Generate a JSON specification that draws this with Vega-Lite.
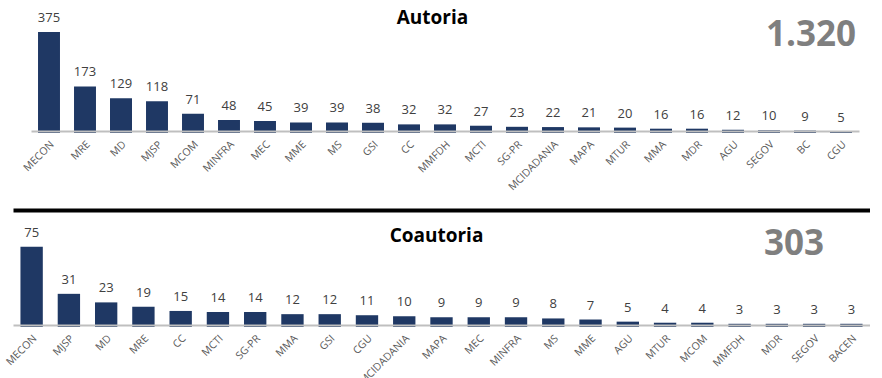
{
  "$schema": "https://vega.github.io/schema/vega-lite/v6.json",
  "padding": {"top": 8, "left": 0, "right": 0, "bottom": 0},
  "background": "white",
  "config": {
    "view": {"stroke": null},
    "font": "Open Sans"
  },
  "datasets": {
    "orgaos": [
      {"painel": "Autoria", "orgao": "MECON", "valor": 375},
      {"painel": "Autoria", "orgao": "MRE", "valor": 173},
      {"painel": "Autoria", "orgao": "MD", "valor": 129},
      {"painel": "Autoria", "orgao": "MJSP", "valor": 118},
      {"painel": "Autoria", "orgao": "MCOM", "valor": 71},
      {"painel": "Autoria", "orgao": "MINFRA", "valor": 48},
      {"painel": "Autoria", "orgao": "MEC", "valor": 45},
      {"painel": "Autoria", "orgao": "MME", "valor": 39},
      {"painel": "Autoria", "orgao": "MS", "valor": 39},
      {"painel": "Autoria", "orgao": "GSI", "valor": 38},
      {"painel": "Autoria", "orgao": "CC", "valor": 32},
      {"painel": "Autoria", "orgao": "MMFDH", "valor": 32},
      {"painel": "Autoria", "orgao": "MCTI", "valor": 27},
      {"painel": "Autoria", "orgao": "SG-PR", "valor": 23},
      {"painel": "Autoria", "orgao": "MCIDADANIA", "valor": 22},
      {"painel": "Autoria", "orgao": "MAPA", "valor": 21},
      {"painel": "Autoria", "orgao": "MTUR", "valor": 20},
      {"painel": "Autoria", "orgao": "MMA", "valor": 16},
      {"painel": "Autoria", "orgao": "MDR", "valor": 16},
      {"painel": "Autoria", "orgao": "AGU", "valor": 12},
      {"painel": "Autoria", "orgao": "SEGOV", "valor": 10},
      {"painel": "Autoria", "orgao": "BC", "valor": 9},
      {"painel": "Autoria", "orgao": "CGU", "valor": 5},
      {"painel": "Coautoria", "orgao": "MECON", "valor": 75},
      {"painel": "Coautoria", "orgao": "MJSP", "valor": 31},
      {"painel": "Coautoria", "orgao": "MD", "valor": 23},
      {"painel": "Coautoria", "orgao": "MRE", "valor": 19},
      {"painel": "Coautoria", "orgao": "CC", "valor": 15},
      {"painel": "Coautoria", "orgao": "MCTI", "valor": 14},
      {"painel": "Coautoria", "orgao": "SG-PR", "valor": 14},
      {"painel": "Coautoria", "orgao": "MMA", "valor": 12},
      {"painel": "Coautoria", "orgao": "GSI", "valor": 12},
      {"painel": "Coautoria", "orgao": "CGU", "valor": 11},
      {"painel": "Coautoria", "orgao": "MCIDADANIA", "valor": 10},
      {"painel": "Coautoria", "orgao": "MAPA", "valor": 9},
      {"painel": "Coautoria", "orgao": "MEC", "valor": 9},
      {"painel": "Coautoria", "orgao": "MINFRA", "valor": 9},
      {"painel": "Coautoria", "orgao": "MS", "valor": 8},
      {"painel": "Coautoria", "orgao": "MME", "valor": 7},
      {"painel": "Coautoria", "orgao": "AGU", "valor": 5},
      {"painel": "Coautoria", "orgao": "MTUR", "valor": 4},
      {"painel": "Coautoria", "orgao": "MCOM", "valor": 4},
      {"painel": "Coautoria", "orgao": "MMFDH", "valor": 3},
      {"painel": "Coautoria", "orgao": "MDR", "valor": 3},
      {"painel": "Coautoria", "orgao": "SEGOV", "valor": 3},
      {"painel": "Coautoria", "orgao": "BACEN", "valor": 3}
    ],
    "totais": [
      {"painel": "Autoria", "titulo": "Autoria", "total": "1.320"},
      {"painel": "Coautoria", "titulo": "Coautoria", "total": "303"}
    ]
  },
  "vconcat": [
    {
      "width": 846,
      "height": 125,
      "layer": [
        {
          "data": {"name": "orgaos"},
          "transform": [{"filter": "datum.painel === 'Autoria'"}],
          "mark": {"type": "bar", "color": "#1f3864"},
          "encoding": {
            "x": {"field": "orgao", "type": "nominal", "sort": null,
              "scale": {"range": [18, 846], "paddingInner": 0.39, "paddingOuter": 0.195},
              "axis": {"title": null, "orient": "bottom", "labelAngle": -45, "labelFontSize": 10.5, "labelColor": "#595959", "labelFont": "Open Sans", "ticks": false, "domainColor": "#bfbfbf", "domainWidth": 2, "offset": -2, "zindex": 1, "labelPadding": 8}},
            "y": {"field": "valor", "type": "quantitative",
              "scale": {"domain": [0, 464], "nice": false, "zero": true},
              "axis": {"title": null, "labels": false, "ticks": false, "grid": false, "domain": true, "domainColor": "transparent", "minExtent": 13, "maxExtent": 13}}
          }
        },
        {
          "data": {"name": "orgaos"},
          "transform": [{"filter": "datum.painel === 'Autoria'"}],
          "mark": {"type": "text", "baseline": "alphabetic", "dy": -10, "fontSize": 13, "color": "#404040", "font": "Open Sans"},
          "encoding": {
            "x": {"field": "orgao", "type": "nominal", "sort": null},
            "y": {"field": "valor", "type": "quantitative"},
            "text": {"field": "valor", "type": "quantitative"}
          }
        },
        {
          "data": {"name": "totais"},
          "transform": [{"filter": "datum.painel === 'Autoria'"}],
          "mark": {"type": "text", "baseline": "alphabetic", "align": "center", "dx": -12.5, "fontSize": 19, "fontWeight": "bold", "color": "#000000", "font": "Open Sans"},
          "encoding": {
            "x": {"datum": "MMFDH", "type": "nominal", "bandPosition": 0.5},
            "y": {"datum": 404.5, "type": "quantitative"},
            "text": {"field": "titulo", "type": "nominal"}
          }
        },
        {
          "data": {"name": "totais"},
          "transform": [{"filter": "datum.painel === 'Autoria'"}],
          "mark": {"type": "text", "baseline": "alphabetic", "align": "right", "dx": 15, "fontSize": 35, "fontWeight": "bold", "color": "#7f7f7f", "font": "Open Sans"},
          "encoding": {
            "x": {"datum": "CGU", "type": "nominal", "bandPosition": 0.5},
            "y": {"datum": 323, "type": "quantitative"},
            "text": {"field": "total", "type": "nominal"}
          }
        }
      ]
    },
    {
      "width": 857,
      "height": 101,
      "resolve": {"axis": {"x": "independent"}},
      "layer": [
        {
          "data": {"name": "orgaos"},
          "transform": [{"filter": "datum.painel === 'Coautoria'"}],
          "mark": {"type": "bar", "color": "#1f3864"},
          "encoding": {
            "x": {"field": "orgao", "type": "nominal", "sort": null,
              "scale": {"paddingInner": 0.4, "paddingOuter": 0.2},
              "axis": {"title": null, "orient": "bottom", "labelAngle": -45, "labelFontSize": 10.5, "labelColor": "#595959", "labelFont": "Open Sans", "ticks": false, "domainColor": "#bfbfbf", "domainWidth": 2, "offset": -2, "zindex": 1, "labelPadding": 8}},
            "y": {"field": "valor", "type": "quantitative",
              "scale": {"domain": [0, 94.4], "nice": false, "zero": true},
              "axis": {"title": null, "labels": false, "ticks": false, "grid": false, "domain": true, "domainColor": "transparent", "minExtent": 13, "maxExtent": 13}}
          }
        },
        {
          "data": {"name": "orgaos"},
          "transform": [{"filter": "datum.painel === 'Coautoria'"}],
          "mark": {"type": "text", "baseline": "alphabetic", "dy": -10, "fontSize": 13, "color": "#404040", "font": "Open Sans"},
          "encoding": {
            "x": {"field": "orgao", "type": "nominal", "sort": null, "axis": null},
            "y": {"field": "valor", "type": "quantitative"},
            "text": {"field": "valor", "type": "quantitative"}
          }
        },
        {
          "data": {"name": "totais"},
          "transform": [{"filter": "datum.painel === 'Coautoria'"}],
          "mark": {"type": "text", "baseline": "alphabetic", "align": "center", "dx": -5, "fontSize": 19, "fontWeight": "bold", "color": "#000000", "font": "Open Sans"},
          "encoding": {
            "x": {"datum": "MAPA", "type": "nominal", "bandPosition": 0.5, "axis": null},
            "y": {"datum": 79.4, "type": "quantitative"},
            "text": {"field": "titulo", "type": "nominal"}
          }
        },
        {
          "data": {"name": "totais"},
          "transform": [{"filter": "datum.painel === 'Coautoria'"}],
          "mark": {"type": "text", "baseline": "alphabetic", "align": "right", "dx": 10, "fontSize": 35, "fontWeight": "bold", "color": "#7f7f7f", "font": "Open Sans"},
          "encoding": {
            "x": {"datum": "SEGOV", "type": "nominal", "bandPosition": 0.5,
              "axis": {"orient": "top", "title": null, "labels": false, "ticks": false, "grid": false, "domain": true, "domainColor": "#000000", "domainWidth": 4, "offset": 16}},
            "y": {"datum": 67.3, "type": "quantitative"},
            "text": {"field": "total", "type": "nominal"}
          }
        }
      ]
    }
  ],
  "spacing": 17
}
